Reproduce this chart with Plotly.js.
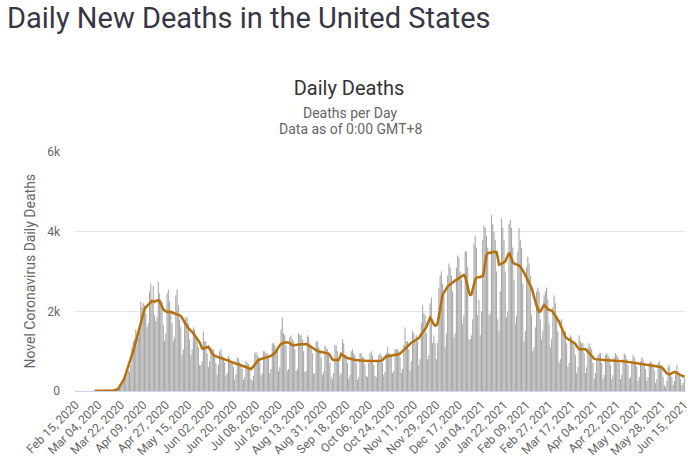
<!DOCTYPE html>
<html>
<head>
<meta charset="utf-8">
<script src="https://cdn.plot.ly/plotly-3.0.1.min.js"></script>
<style>
  html, body { margin:0; padding:0; background:#fff; }
  #wrap { position:relative; width:698px; height:468px; overflow:hidden; }
  #heading { position:absolute; left:7px; top:1px; margin:0; font-family:Roboto, sans-serif; font-weight:400;
             font-size:29px; line-height:34px; color:#363645; white-space:nowrap; z-index:2; }
  #chart { position:absolute; left:0; top:0; width:698px; height:468px; }
</style>
</head>
<body>
<div id="wrap">
  <h1 id="heading">Daily New Deaths in the United States</h1>
  <div id="chart"></div>
</div>
<script>
// ---- data ----
const startDate = '2020-02-15';

// daily new deaths, one row per week (Sat .. Fri)
const dailyDeaths = [
  0,0,0,0,0,0,0,
  0,0,0,0,0,0,0,
  1,0,1,4,1,2,1,
  2,3,4,4,4,8,12,
  10,12,18,23,41,56,49,
  110,160,240,300,310,330,450,
  520,480,650,1100,1250,1300,1550,
  1400,1350,1600,2250,2100,2200,2150,
  1950,1600,1700,2500,2700,2300,2650,
  1900,1750,1850,2750,2450,2300,2250,
  1650,1250,1450,2450,2550,2250,2000,
  1700,1250,1350,2400,2550,2150,1800,
  1600,900,1050,1750,1850,1850,1700,
  1300,900,1050,1600,1550,1350,1350,
  1100,650,650,750,1500,1250,1250,
  950,600,750,1100,1050,1050,950,
  700,400,650,1000,1050,900,850,
  720,380,450,880,820,750,700,
  600,280,420,850,820,720,650,
  550,280,350,750,700,680,620,
  300,260,380,950,980,900,850,
  750,400,450,1000,1000,950,950,
  850,450,550,1200,1200,1150,1050,
  1000,500,600,1550,1850,1450,1400,
  1150,500,550,1350,1400,1300,1250,
  1050,500,550,1450,1400,1400,1300,
  1000,480,500,1400,1350,1200,1150,
  950,430,450,1250,1250,1100,1050,
  850,400,480,1150,1100,1050,950,
  700,350,300,450,1150,1150,1000,
  750,400,450,1300,1200,900,900,
  700,300,400,1000,1050,950,900,
  700,280,350,950,950,850,850,
  650,380,350,700,950,1000,900,
  650,380,350,750,900,950,900,
  700,400,480,950,1100,950,950,
  900,450,500,1050,1050,1050,1000,
  850,450,550,1150,1600,1250,1250,
  1050,500,750,1500,1450,1250,1400,
  1250,650,800,1700,2150,1950,1900,
  1450,800,900,2200,2350,1200,1400,
  1200,800,1200,2600,2900,3000,2700,
  2400,1100,1450,2900,3200,3100,2900,
  2500,1350,1450,3100,3400,3350,3000,
  2800,1700,1900,3500,3500,3100,1300,
  1300,1400,1800,3700,3900,3600,1900,
  2300,1400,2000,3800,4150,4100,3900,
  3600,1900,1950,4420,4200,4000,3800,
  3000,1800,1500,2500,4340,4100,3800,
  3000,1850,2000,4200,4300,4100,3600,
  2800,1700,1900,3500,4100,3800,3600,
  2700,1250,1500,3100,3370,3200,2900,
  1900,1000,1100,1600,2500,2600,2500,
  1800,1300,1500,2400,2500,2600,2300,
  1700,1100,1300,2100,2400,2200,1900,
  1500,700,800,1800,1500,1400,1500,
  1200,600,700,1400,1350,1200,1100,
  900,450,600,1400,1250,1200,1200,
  950,450,600,1100,1200,1100,1050,
  700,300,450,800,900,950,950,
  700,300,400,900,950,900,850,
  650,300,400,850,950,900,850,
  700,300,400,800,950,900,800,
  650,300,350,750,900,850,750,
  600,250,350,750,850,800,700,
  550,250,350,700,750,700,650,
  500,200,300,700,750,650,650,
  350,150,100,250,600,650,450,
  350,150,250,500,650,500,450,
  300,150,200,350
];

// 7-day moving average line (same rows)
const movingAvg = [
  null,null,null,null,null,null,null,
  null,null,null,null,null,null,null,
  null,1,1,1,2,2,2,
  3,3,4,4,5,6,7,
  9,11,14,20,28,38,52,
  110,150,200,260,330,420,520,
  610,700,790,900,1010,1120,1240,
  1350,1460,1580,1700,1860,1990,2050,
  2100,2130,2170,2200,2230,2260,2250,
  2240,2260,2270,2280,2250,2200,2120,
  2050,2020,2000,1990,1980,1990,1990,
  1970,1960,1950,1940,1930,1910,1900,
  1880,1840,1790,1720,1660,1620,1580,
  1550,1520,1490,1450,1400,1360,1320,
  1280,1220,1150,1070,1060,1070,1080,
  1090,1110,1060,1000,950,900,880,
  870,860,850,840,830,825,820,
  810,790,770,760,750,730,720,
  710,690,680,670,660,650,640,
  630,620,610,600,590,570,560,
  550,580,620,680,720,750,780,
  790,800,810,820,830,840,845,
  850,860,880,900,930,960,990,
  1050,1110,1150,1180,1200,1210,1215,
  1220,1220,1220,1200,1160,1150,1150,
  1150,1160,1160,1170,1170,1175,1175,
  1180,1180,1180,1160,1140,1120,1100,
  1080,1060,1040,1010,1000,990,985,
  980,975,970,965,960,950,940,
  900,850,790,780,780,780,780,
  780,850,930,910,880,860,840,
  830,820,810,800,790,780,775,
  770,770,765,765,760,760,760,
  760,755,755,755,755,755,755,
  755,755,755,755,755,760,760,
  780,820,860,870,870,875,880,
  885,890,895,900,905,910,920,
  940,970,1000,1040,1080,1110,1140,
  1170,1190,1210,1230,1250,1270,1290,
  1310,1330,1380,1430,1480,1520,1560,
  1600,1690,1780,1840,1800,1720,1670,
  1640,1650,1700,1850,2050,2250,2410,
  2470,2530,2580,2620,2650,2680,2710,
  2730,2750,2770,2790,2810,2840,2870,
  2890,2910,2915,2880,2780,2620,2480,
  2410,2420,2550,2700,2800,2840,2850,
  2860,2870,2875,2880,3000,3200,3420,
  3460,3470,3480,3490,3495,3495,3490,
  3490,3350,3170,3180,3200,3220,3240,
  3250,3330,3420,3470,3400,3300,3230,
  3200,3190,3180,3170,3150,3120,3080,
  3030,2970,2910,2850,2780,2700,2640,
  2590,2480,2350,2240,2140,2060,1990,
  2000,2060,2120,2160,2120,2080,2060,
  2040,2030,2020,1980,1930,1900,1860,
  1800,1740,1660,1580,1500,1420,1360,
  1330,1310,1290,1270,1260,1240,1220,
  1180,1130,1080,1050,1050,1050,1050,
  1050,1050,1020,980,950,900,860,
  830,810,800,795,790,785,780,
  780,775,775,770,770,770,765,
  765,765,760,760,760,755,755,
  755,750,750,750,745,745,745,
  740,740,735,730,720,710,700,
  695,690,685,680,675,670,665,
  660,655,650,650,645,640,635,
  630,625,620,615,610,600,590,
  560,510,460,440,430,420,430,
  450,470,480,470,450,430,410,
  395,380,375,360
];

const tickLabels = [
  'Feb 15, 2020','Mar 04, 2020','Mar 22, 2020','Apr 09, 2020','Apr 27, 2020','May 15, 2020',
  'Jun 02, 2020','Jun 20, 2020','Jul 08, 2020','Jul 26, 2020','Aug 13, 2020','Aug 31, 2020',
  'Sep 18, 2020','Oct 06, 2020','Oct 24, 2020','Nov 11, 2020','Nov 29, 2020','Dec 17, 2020',
  'Jan 04, 2021','Jan 22, 2021','Feb 09, 2021','Feb 27, 2021','Mar 17, 2021','Apr 04, 2021',
  'Apr 22, 2021','May 10, 2021','May 28, 2021','Jun 15, 2021'
];
const yTickVals = [0, 2000, 4000, 6000];
const yTickText = ['0', '2k', '4k', '6k'];

// ---- build category labels (one per day) ----
const monthNames = ['Jan','Feb','Mar','Apr','May','Jun','Jul','Aug','Sep','Oct','Nov','Dec'];
const t0 = Date.parse(startDate + 'T00:00:00Z');
const categories = dailyDeaths.map((_, i) => {
  const d = new Date(t0 + i * 86400000);
  const dd = String(d.getUTCDate()).padStart(2, '0');
  return monthNames[d.getUTCMonth()] + ' ' + dd + ', ' + d.getUTCFullYear();
});

const bars = {
  type: 'bar', x: categories, y: dailyDeaths, name: 'Daily Deaths',
  marker: { color: '#a9a9a9', line: { width: 0 } },
  hoverinfo: 'x+y'
};
const line = {
  type: 'scatter', mode: 'lines', x: categories, y: movingAvg, name: '7-day moving average',
  line: { color: '#b5700b', width: 2.5 }, connectgaps: false
};

const layout = {
  width: 698, height: 468,
  margin: { l: 75, r: 13, t: 152, b: 77, pad: 0 },
  paper_bgcolor: 'rgba(0,0,0,0)', plot_bgcolor: 'rgba(0,0,0,0)',
  font: { family: 'Roboto, sans-serif', color: '#666666', size: 12 },
  showlegend: false,
  bargap: 0.12,
  title: { text: 'Daily Deaths', font: { family: 'Roboto, sans-serif', size: 20, color: '#333333' },
           xref: 'container', x: 0.5, xanchor: 'center', yref: 'container', y: 1 - 88/468, yanchor: 'middle' },
  xaxis: {
    type: 'category', range: [-0.5, categories.length - 0.5],
    tickmode: 'array', tickvals: tickLabels, ticktext: tickLabels,
    tickangle: -45, tickfont: { size: 12, color: '#666666' },
    showgrid: false, zeroline: false, showline: true, linecolor: '#ccd6eb', linewidth: 1,
    ticks: '', ticklabelstandoff: 1, fixedrange: true
  },
  yaxis: {
    range: [0, 6000], tickmode: 'array', tickvals: yTickVals, ticktext: yTickText,
    tickfont: { size: 12, color: '#666666' },
    showgrid: true, gridcolor: '#e6e6e6', gridwidth: 1, zeroline: false, showline: false,
    ticks: '', ticklabelstandoff: 14, fixedrange: true
  },
  annotations: [
    { text: 'Deaths per Day', xref: 'paper', yref: 'paper', x: (350-75)/610, y: (391-113)/239,
      xanchor: 'center', yanchor: 'middle', showarrow: false, font: { size: 14, color: '#666666' } },
    { text: 'Data as of 0:00 GMT+8', xref: 'paper', yref: 'paper', x: (350-75)/610, y: (391-129)/239,
      xanchor: 'center', yanchor: 'middle', showarrow: false, font: { size: 14, color: '#666666' } },
    { text: 'Novel Coronavirus Daily Deaths', xref: 'paper', yref: 'paper', x: (29-75)/610, y: 0.5,
      xanchor: 'center', yanchor: 'middle', textangle: -90, showarrow: false,
      font: { size: 14, color: '#666666' } }
  ]
};

Plotly.newPlot('chart', [bars, line], layout, { displayModeBar: false, staticPlot: true });
</script>
</body>
</html>
